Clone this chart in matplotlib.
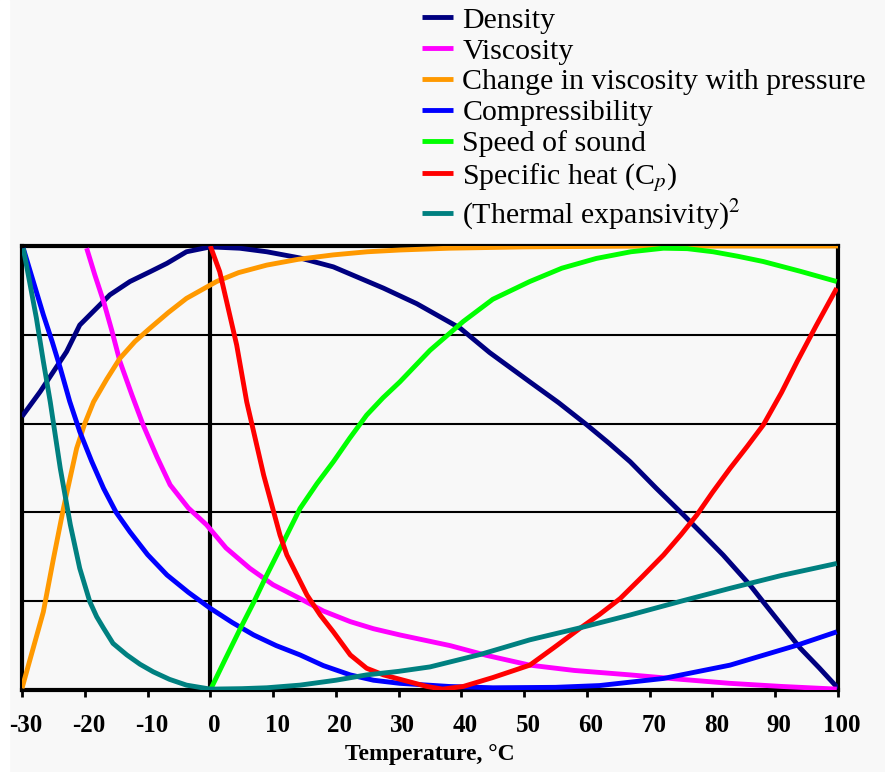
import matplotlib.pyplot as plt
from matplotlib.patches import Rectangle
from matplotlib.transforms import ScaledTranslation

# values, normalised 0..1 (the chart shows no y scale)
density_t = [-30, -27.1, -22.9, -20.8, -16, -12.8, -9.6, -6.9, -3.8, 0, 4.7, 9, 14.3, 19.6, 27.6, 32.9, 39.8,
             44.5, 50.9, 55.5, 60, 63.5, 66.9, 71, 75.4, 78.5, 81.7, 86, 88, 90.2, 94, 97, 100]
density_v = [0.616, 0.672, 0.762, 0.822, 0.89, 0.92, 0.942, 0.961, 0.987, 0.998, 0.995, 0.987, 0.973, 0.953,
             0.905, 0.87, 0.815, 0.76, 0.694, 0.647, 0.597, 0.556, 0.514, 0.455, 0.394, 0.35, 0.304, 0.236,
             0.2, 0.161, 0.094, 0.05, 0.004]

viscosity_t = [-19.7, -18.4, -17, -15.7, -14.4, -12.5, -10.7, -8.5, -6.4, -3.5, -0.6, 2.5, 6.3, 10, 14.3, 18,
               22.3, 26, 30.2, 38.2, 44, 50.9, 58, 66.9, 75, 82.8, 91, 99.8]
viscosity_v = [0.995, 0.935, 0.875, 0.81, 0.74, 0.665, 0.597, 0.525, 0.462, 0.41, 0.372, 0.32, 0.274, 0.237,
               0.206, 0.178, 0.154, 0.138, 0.124, 0.1, 0.078, 0.056, 0.044, 0.034, 0.024, 0.015, 0.008, 0.002]

dvisc_t = [-30, -28.3, -26.6, -25, -23.4, -22.3, -21.3, -20, -18.6, -16.5, -14.4, -12, -9.6, -6.7, -3.8, 1,
           4.5, 9, 14, 19.6, 25, 30.2, 38, 50, 70, 100]
dvisc_v = [0.004, 0.09, 0.176, 0.295, 0.409, 0.48, 0.544, 0.6, 0.649, 0.7, 0.747, 0.785, 0.815, 0.85, 0.882,
           0.92, 0.94, 0.957, 0.97, 0.98, 0.987, 0.991, 0.995, 0.998, 1.0, 1.0]

compress_t = [-29.8, -28.2, -26.6, -25.2, -23.9, -22.4, -20.8, -18.9, -17, -15, -12.8, -10, -6.9, -3.5, 0,
              3.5, 6.9, 10.5, 14.3, 18, 22.3, 26, 30.2, 38, 45, 55, 62, 72.2, 82.8, 93.5, 99.8]
compress_v = [0.995, 0.92, 0.845, 0.785, 0.725, 0.65, 0.582, 0.515, 0.454, 0.4, 0.356, 0.305, 0.259, 0.22,
              0.184, 0.152, 0.124, 0.1, 0.079, 0.055, 0.034, 0.022, 0.015, 0.008, 0.005, 0.006, 0.01, 0.026,
              0.056, 0.101, 0.131]

sound_t = [0, 2.4, 4.8, 7, 9, 11.7, 14.3, 17, 19.6, 22.2, 24.9, 27.5, 30.2, 35, 40.3, 45, 50.9, 56, 61.5, 67,
           72.2, 76, 80.1, 84, 88.1, 94, 99.8]
sound_v = [0.0, 0.07, 0.139, 0.2, 0.259, 0.335, 0.409, 0.465, 0.514, 0.567, 0.619, 0.658, 0.694, 0.765, 0.83,
           0.88, 0.92, 0.95, 0.972, 0.987, 0.995, 0.994, 0.987, 0.977, 0.965, 0.943, 0.92]

cp_t = [0, 1.5, 2.6, 4.2, 5.8, 6.9, 8.5, 9.5, 11.1, 12.2, 13.8, 15.4, 17.5, 19.6, 22.3, 24.9, 27.6, 34.5, 37,
        40.3, 45, 50.9, 54.7, 58.9, 62, 65.3, 68.8, 72.2, 75, 77.5, 80, 82.8, 85.5, 88.1, 91, 93.5, 96.5, 99.8]
cp_v = [1.0, 0.942, 0.875, 0.777, 0.649, 0.582, 0.484, 0.432, 0.349, 0.304, 0.259, 0.214, 0.169, 0.131, 0.079,
        0.049, 0.034, 0.008, 0.002, 0.008, 0.028, 0.056, 0.095, 0.139, 0.17, 0.206, 0.255, 0.304, 0.35, 0.394,
        0.445, 0.499, 0.548, 0.597, 0.67, 0.74, 0.82, 0.905]

alpha2_t = [-29.8, -28.8, -27.7, -26.6, -25.5, -23.9, -22.3, -20.8, -19.2, -18.1, -17, -15.5, -13.3, -11.2,
            -9.1, -6.5, -3.8, 0, 5, 9, 14.3, 20, 24.9, 30, 35, 43, 50.9, 58.9, 66.9, 75, 82.8, 91, 99.8]
alpha2_v = [0.995, 0.92, 0.837, 0.74, 0.649, 0.499, 0.372, 0.274, 0.199, 0.165, 0.139, 0.105, 0.079, 0.058,
            0.041, 0.024, 0.011, 0.002, 0.003, 0.005, 0.011, 0.022, 0.034, 0.042, 0.052, 0.08, 0.113, 0.14,
            0.169, 0.2, 0.229, 0.258, 0.285]

series = [
    ("Density", density_t, density_v, "#000080"),
    ("Viscosity", viscosity_t, viscosity_v, "#ff00ff"),
    ("Change in viscosity with pressure", dvisc_t, dvisc_v, "#ff9900"),
    ("Compressibility", compress_t, compress_v, "#0000ff"),
    ("Speed of sound", sound_t, sound_v, "#00ff00"),
    ("Specific heat (C$_p$)", cp_t, cp_v, "#ff0000"),
    ("(Thermal expansivity)$^2$", alpha2_t, alpha2_v, "#008080"),
]

xticks = [-30, -20, -10, 0, 10, 20, 30, 40, 50, 60, 70, 80, 90, 100]

plt.rcParams['font.family'] = ['Liberation Serif', 'DejaVu Serif']
plt.rcParams['mathtext.fontset'] = 'stix'

bg = "#f8f8f8"
fig = plt.figure(figsize=(8.85, 7.72), dpi=100, facecolor=bg)
fig.patches.append(Rectangle((0, 0), 9 / 885, 1, transform=fig.transFigure, color="white", zorder=0))
ax = fig.add_axes([22 / 885, 82 / 772, 816 / 885, 444 / 772])
ax.set_facecolor(bg)

for y in [0.2, 0.4, 0.6, 0.8]:
    ax.axhline(y, color="black", lw=1.5, zorder=1)
ax.axvline(0, color="black", lw=3, zorder=2)

for label, t, v, c in series:
    ax.plot(t, v, color=c, lw=3.5, label=label, zorder=3, solid_capstyle="butt")

ax.set_xlim(-30, 100)
ax.set_ylim(0, 1)
ax.set_yticks([])
ax.set_xticks(xticks)
ax.set_xticklabels([str(t) for t in xticks], fontsize=18, fontweight="bold")
ax.tick_params(axis="x", direction="out", length=5, width=2, pad=12)
# labels in the original sit a little right of their ticks
shift = ScaledTranslation(4 / 100, 0, fig.dpi_scale_trans)
for lbl in ax.get_xticklabels():
    lbl.set_transform(lbl.get_transform() + shift)
for s in ax.spines.values():
    s.set_linewidth(3)
    s.set_zorder(2)
ax.set_xlabel("Temperature, °C", fontsize=17, fontweight="bold", labelpad=5)

fig.legend(loc="upper left", bbox_to_anchor=(410 / 885, 1 + 5 / 772), frameon=False,
           fontsize=21.5, handlelength=1.05, handletextpad=0.3, labelspacing=0.13,
           borderaxespad=0)

fig.savefig("out.png", dpi=100, facecolor=bg)
